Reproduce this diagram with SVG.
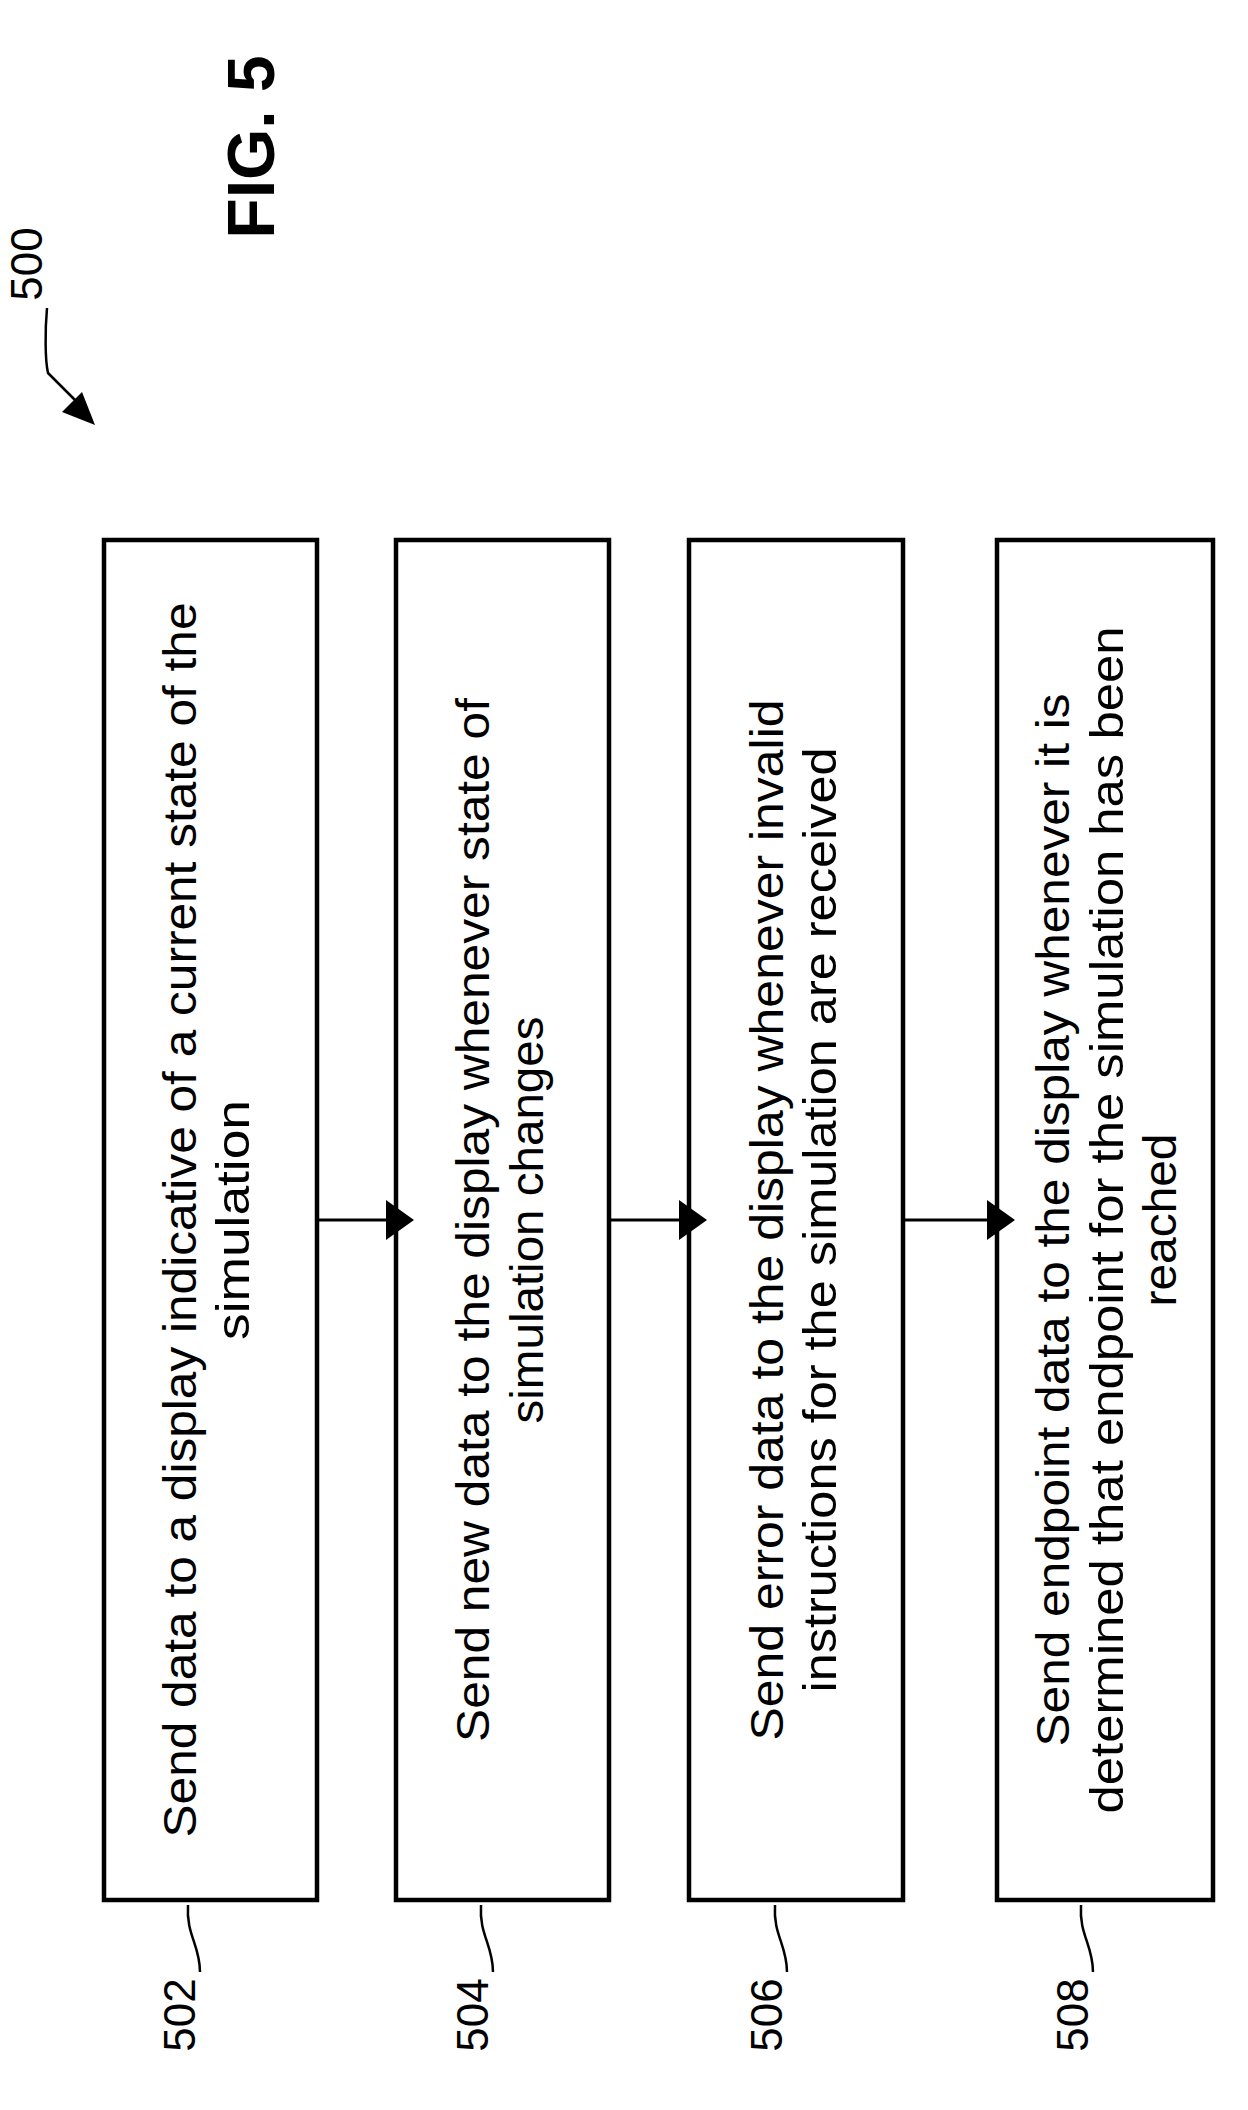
<svg xmlns="http://www.w3.org/2000/svg" width="1248" height="2110" viewBox="0 0 1248 2110">
<style>
.box{fill:#fff;stroke:#000;stroke-width:4.5}
.t{font-family:"Liberation Sans",Arial,sans-serif;font-size:46px;text-anchor:middle;fill:#000}
.lbl{font-family:"Liberation Sans",Arial,sans-serif;font-size:44px;text-anchor:middle;fill:#000}
.ld{fill:none;stroke:#000;stroke-width:2.5}
.c{stroke:#000;stroke-width:3;fill:none}
</style>
<defs>
<marker id="ah" markerWidth="10" markerHeight="10" refX="10" refY="5" orient="auto" markerUnits="userSpaceOnUse" viewBox="0 0 10 10" style="overflow:visible">
<path d="M0,0 L10,5 L0,10 Z" fill="#000" transform="scale(2.8,4) translate(0,-3.75)"/>
</marker>
</defs>
<rect width="1248" height="2110" fill="#fff"/>
<text class="t" transform="translate(274,147) rotate(-90)" style="font-weight:bold;font-size:66px">FIG. 5</text>
<g id="ref500">
<text class="lbl" transform="translate(42,264) rotate(-90)">500</text>
<path class="ld" d="M47,308 C45,330 45,360 48,373 L80,405"/>
<path d="M95,425 L62,412 L82,392 Z" fill="#000"/>
</g>
<g id="n502">
<rect class="box" x="104" y="540" width="213" height="1360"/>
<text class="t" transform="translate(196,1220) rotate(-90)" textLength="1235" lengthAdjust="spacingAndGlyphs">Send data to a display indicative of a current state of the</text>
<text class="t" transform="translate(249,1220) rotate(-90)" textLength="240" lengthAdjust="spacingAndGlyphs">simulation</text>
<text class="lbl" transform="translate(195,2015) rotate(-90)">502</text>
<path class="ld" d="M200,1972 C200,1945 186,1935 188,1905"/>
</g>
<g id="n504">
<rect class="box" x="396" y="540" width="213" height="1360"/>
<text class="t" transform="translate(489,1220) rotate(-90)" textLength="1044" lengthAdjust="spacingAndGlyphs">Send new data to the display whenever state of</text>
<text class="t" transform="translate(543,1220) rotate(-90)" textLength="407" lengthAdjust="spacingAndGlyphs">simulation changes</text>
<text class="lbl" transform="translate(488,2015) rotate(-90)">504</text>
<path class="ld" d="M493,1972 C493,1945 479,1935 481,1905"/>
</g>
<g id="n506">
<rect class="box" x="689" y="540" width="214" height="1360"/>
<text class="t" transform="translate(783,1220) rotate(-90)" textLength="1041" lengthAdjust="spacingAndGlyphs">Send error data to the display whenever invalid</text>
<text class="t" transform="translate(836,1220) rotate(-90)" textLength="945" lengthAdjust="spacingAndGlyphs">instructions for the simulation are received</text>
<text class="lbl" transform="translate(782,2015) rotate(-90)">506</text>
<path class="ld" d="M787,1972 C787,1945 773,1935 775,1905"/>
</g>
<g id="n508">
<rect class="box" x="997" y="540" width="216" height="1360"/>
<text class="t" transform="translate(1069,1220) rotate(-90)" textLength="1053" lengthAdjust="spacingAndGlyphs">Send endpoint data to the display whenever it is</text>
<text class="t" transform="translate(1123,1220) rotate(-90)" textLength="1187" lengthAdjust="spacingAndGlyphs">determined that endpoint for the simulation has been</text>
<text class="t" transform="translate(1176,1220) rotate(-90)" textLength="173" lengthAdjust="spacingAndGlyphs">reached</text>
<text class="lbl" transform="translate(1088,2015) rotate(-90)">508</text>
<path class="ld" d="M1093,1972 C1093,1945 1079,1935 1081,1905"/>
</g>
<g id="connectors">
<line class="c" x1="317" y1="1220" x2="396" y2="1220" marker-end="url(#ah)"/>
<line class="c" x1="609" y1="1220" x2="689" y2="1220" marker-end="url(#ah)"/>
<line class="c" x1="903" y1="1220" x2="997" y2="1220" marker-end="url(#ah)"/>
</g>
</svg>
